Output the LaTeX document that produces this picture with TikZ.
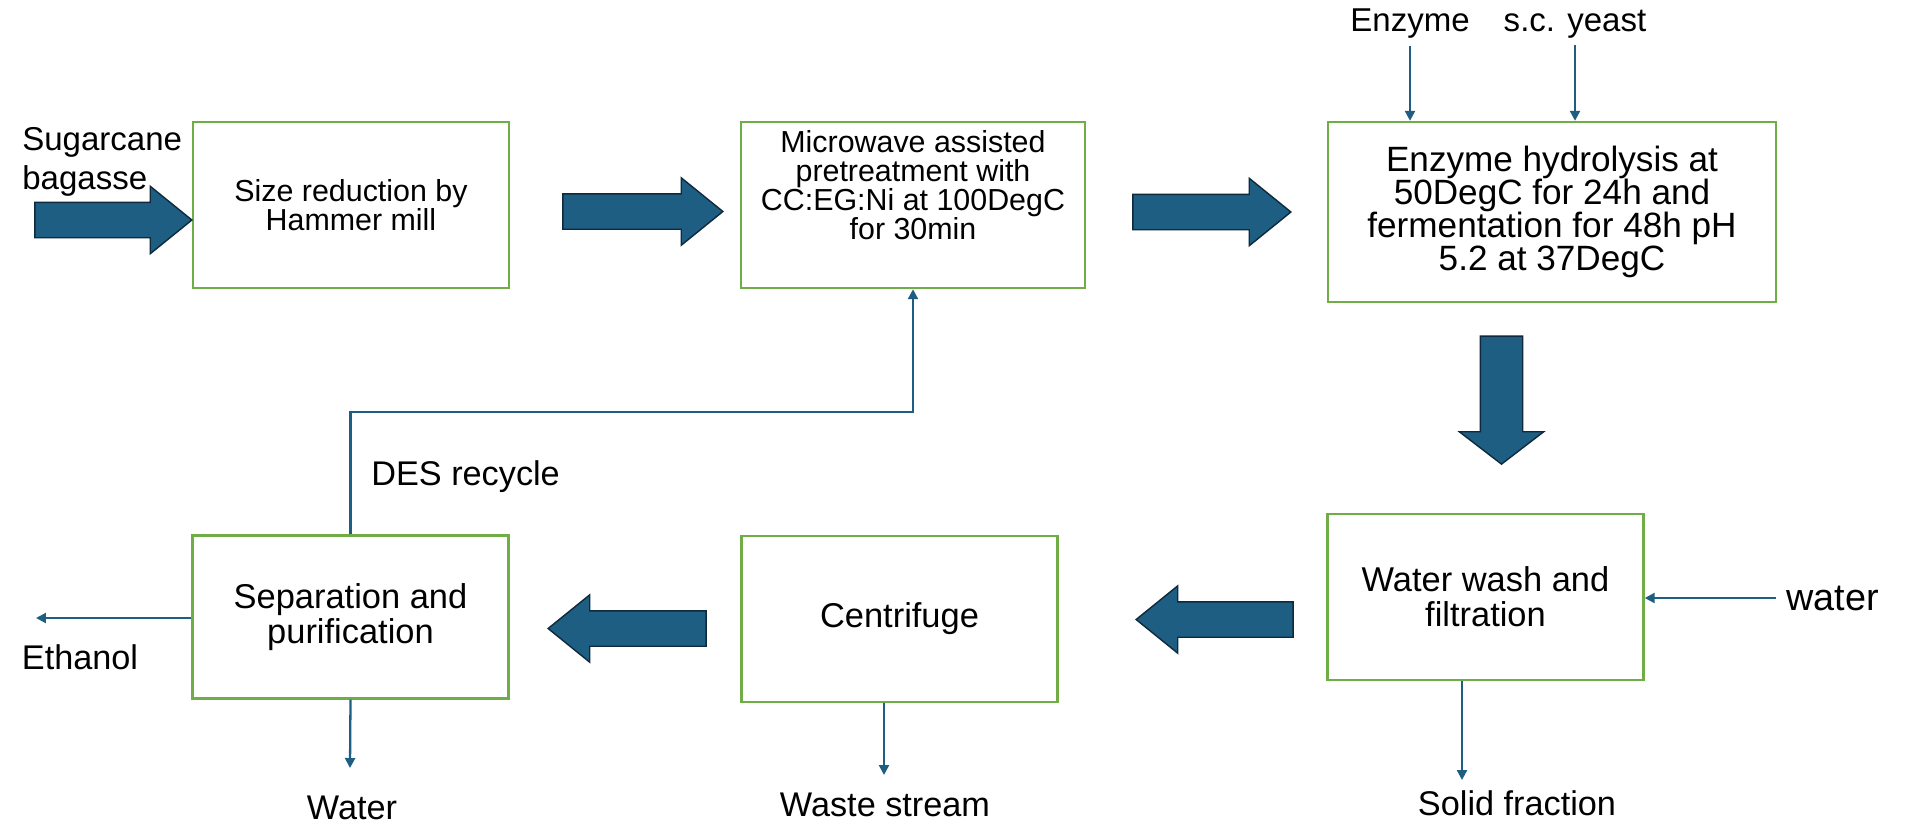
\documentclass[tikz,border=0pt]{standalone}
\usepackage{xcolor}
\usepackage{fontspec}
\setmainfont{Liberation Sans}
\usepackage{tikz}
\usetikzlibrary{shapes.arrows,arrows.meta}
\definecolor{boxGreen}{RGB}{112,173,71}
\definecolor{flowBlue}{RGB}{30,94,130}
\definecolor{arrowEdge}{RGB}{14,42,60}

\tikzset{
  procbox/.style={draw=boxGreen, line width=1.4pt, minimum width=6.32cm, minimum height=3.32cm, align=center, inner sep=0pt},
  boxfont/.style={font=\fontsize{19.6}{19.9}\selectfont},
  smallfont/.style={font=\fontsize{17.3}{16.6}\selectfont},
  tag/.style={font=\fontsize{19.5}{20}\selectfont, inner sep=0pt},
  bigarrow/.style={single arrow, draw=arrowEdge, fill=flowBlue, line width=0.8pt, inner sep=0.34cm, anchor=tip,
    single arrow head extend=0.32cm, single arrow tip angle=78, minimum height=3.16cm},
  flow/.style={draw=flowBlue, line width=1.3pt, -{Triangle[length=0.2cm,width=0.2cm]}},
}

\begin{document}
\begin{tikzpicture}[x=0.02cm, y=-0.02cm]
\fill[white] (0,0) rectangle (1906,823);
\useasboundingbox (0,0) rectangle (1906,823);

% Process boxes
\node[procbox, smallfont] (size) at (351,205) {Size reduction by\\Hammer mill};
\node[procbox, minimum width=6.88cm] (micro) at (913,205) {};
\node[smallfont, anchor=north, align=center, inner sep=0pt] (microtext) at ([yshift=-0.18cm]micro.north)
  {Microwave assisted\\pretreatment with\\CC:EG:Ni at 100DegC\\for 30min};
\node[procbox, minimum width=8.96cm, minimum height=3.6cm, font=\fontsize{20}{18.8}\selectfont] (enz) at (1552,212)
  {Enzyme hydrolysis at\\50DegC for 24h and\\fermentation for 48h pH\\5.2 at 37DegC};
\node[procbox, boxfont] (wash) at (1485.5,597) {Water wash and\\filtration};
\node[procbox, boxfont] (cent) at (899.5,619) {Centrifuge};
\node[procbox, boxfont, minimum height=3.26cm] (sep) at (350.5,617) {Separation and\\purification};

% Block arrows between steps (placed by their tips)
\node[bigarrow, minimum height=3.14cm] (feedArrow) at (193,220) {};
\node[bigarrow, minimum height=3.2cm] (sizeArrow) at (724,211.5) {};
\node[bigarrow] (microArrow) at (1292,212) {};
\node[bigarrow, rotate=-90, minimum height=2.56cm, inner sep=0.41cm,
  single arrow head extend=0.42cm, single arrow tip angle=105] (enzArrow) at (1501.5,465) {};
\node[bigarrow, rotate=180, minimum height=3.14cm] (washArrow) at (1135,619.5) {};
\node[bigarrow, rotate=180] (centArrow) at (547,628.5) {};

% Stream labels
\node[tag, anchor=west, align=left, font=\fontsize{18.8}{22}\selectfont] (feed) at (22,162) {Sugarcane\\bagasse};
\node[tag, font=\fontsize{18.8}{20}\selectfont] (enzyme) at (1410,24) {Enzyme};
\node[tag, font=\fontsize{18.8}{20}\selectfont] (yeast) at (1575,24) {s.c. yeast};
\node[tag, anchor=west, font=\fontsize{21.5}{22}\selectfont] (water) at (1786,598) {water};
\node[tag] (solid) at (1517,803) {Solid fraction};
\node[tag] (waste) at (885,805) {Waste stream};
\node[tag] (waterOut) at (352,808) {Water};
\node[tag] (ethanol) at (80,657) {Ethanol};
\node[tag, anchor=west] (des) at (371,477) {DES recycle};

\coordinate (solidEnd) at (1462,780);
\coordinate (wasteEnd) at (884,775);
\coordinate (waterEnd) at (350,768);
\coordinate (ethanolEnd) at (36,618);
\coordinate (loop) at (913,412);

% Thin streams
\draw[flow] ([yshift=-0.14cm]enzyme.south) -- (enzyme.south |- enz.north);
\draw[flow] ([yshift=-0.14cm]yeast.south) -- (yeast.south |- enz.north);
\draw[flow] ([xshift=-0.2cm]water.west) -- (wash.east |- water.west);
\draw[flow] (wash.south -| solidEnd) -- (solidEnd);
\draw[flow] (cent.south -| wasteEnd) -- (wasteEnd);
\draw[flow] (sep.south) -- (waterEnd);
\draw[flow] (sep.west |- ethanolEnd) -- (ethanolEnd);
\draw[flow] (sep.north) |- (loop) -- (micro.south);
\end{tikzpicture}
\end{document}
